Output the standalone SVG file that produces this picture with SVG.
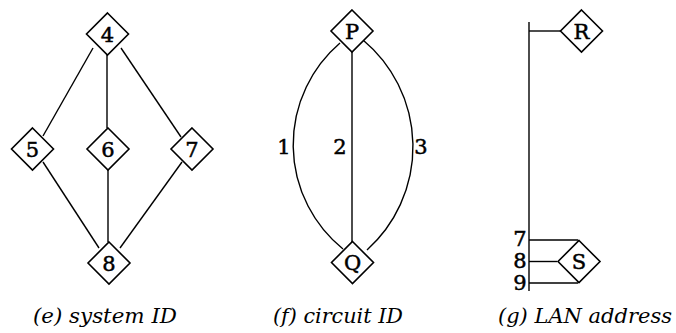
<svg xmlns="http://www.w3.org/2000/svg" width="676" height="333" viewBox="0 0 676 333">
<style>
.n{fill:#fff;stroke:#000;stroke-width:1.6}
.c{fill:none;stroke:#000;stroke-width:1.4}
.t{font-family:"DejaVu Serif","Liberation Serif",serif;font-size:21px;text-anchor:middle;fill:#000;stroke:#000;stroke-width:0.5}
.cap{font-family:"DejaVu Serif","Liberation Serif",serif;font-style:italic;font-size:20px;text-anchor:middle;fill:#000}
</style>
<defs>
<path id="d" d="M0,-21 L21,0 L0,21 L-21,0 Z"/>
</defs>
<rect width="676" height="333" fill="#fff"/>
<g id="connectors">
<line class="c" x1="93" y1="48" x2="43" y2="136"/>
<line class="c" x1="107" y1="54" x2="107" y2="128"/>
<line class="c" x1="121" y1="48" x2="181" y2="137"/>
<line class="c" x1="43" y1="162" x2="99" y2="248"/>
<line class="c" x1="108" y1="170" x2="108" y2="242"/>
<line class="c" x1="182" y1="162" x2="120" y2="248"/>
<path class="c" d="M340,43 A134,134 0 0 0 343,249"/>
<line class="c" x1="352" y1="52" x2="352" y2="242"/>
<path class="c" d="M363,40 A139,139 0 0 1 367,250"/>
<line class="c" x1="529" y1="22" x2="529" y2="291"/>
<line class="c" x1="529" y1="31" x2="561" y2="31"/>
<line class="c" x1="529" y1="240" x2="578" y2="240"/>
<line class="c" x1="529" y1="261.5" x2="557" y2="261.5"/>
<line class="c" x1="529" y1="283" x2="578" y2="283"/>
</g>
<g id="n4"><use href="#d" class="n" x="107.5" y="34"/><text class="t" x="107.5" y="41.5">4</text></g>
<g id="n5"><use href="#d" class="n" x="32.5" y="149"/><text class="t" x="32.5" y="156.5">5</text></g>
<g id="n6"><use href="#d" class="n" x="108" y="149"/><text class="t" x="108" y="156.5">6</text></g>
<g id="n7"><use href="#d" class="n" x="192" y="149"/><text class="t" x="192" y="156.5">7</text></g>
<g id="n8"><use href="#d" class="n" x="109" y="263"/><text class="t" x="109" y="270.5">8</text></g>
<g id="nP"><use href="#d" class="n" x="352" y="31"/><text class="t" x="352" y="38.5">P</text></g>
<g id="nQ"><use href="#d" class="n" x="352.5" y="262.5"/><text class="t" x="352.5" y="270">Q</text></g>
<g id="nR"><use href="#d" class="n" x="581.5" y="31"/><text class="t" x="581.5" y="38.5">R</text></g>
<g id="nS"><use href="#d" class="n" x="579" y="261.5"/><text class="t" x="579" y="269">S</text></g>
<g id="labels">
<text class="t" x="284" y="154">1</text>
<text class="t" x="340" y="154">2</text>
<text class="t" x="421" y="154">3</text>
<text class="t" x="520" y="246">7</text>
<text class="t" x="520" y="268">8</text>
<text class="t" x="520" y="290">9</text>
</g>
<g id="captions">
<text class="cap" x="105" y="323" textLength="144" lengthAdjust="spacingAndGlyphs">(e) system ID</text>
<text class="cap" x="338" y="323" textLength="130" lengthAdjust="spacingAndGlyphs">(f) circuit ID</text>
<text class="cap" x="585" y="323" textLength="174" lengthAdjust="spacingAndGlyphs">(g) LAN address</text>
</g>
</svg>
